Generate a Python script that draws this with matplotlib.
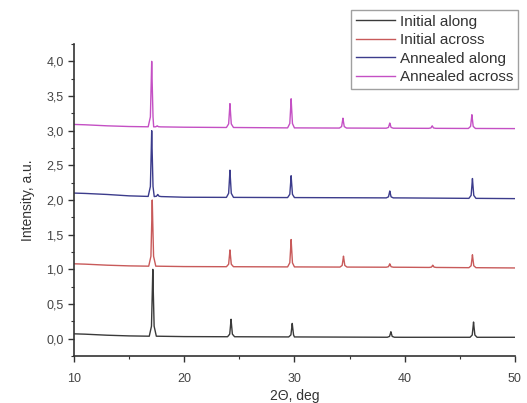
import numpy as np
import matplotlib
matplotlib.use("Agg")
import matplotlib.pyplot as plt
from matplotlib.ticker import MultipleLocator, FixedLocator, FixedFormatter

plt.rcParams["font.family"] = ["Liberation Sans", "DejaVu Sans"]

# ─── Data ────────────────────────────────────────────────────────────────────
labels = ["Initial along", "Initial across", "Annealed along", "Annealed across"]
colors = ["#3a3a3a", "#c85a5a", "#3c3c8c", "#c450c4"]

# baseline (2θ, intensity) per curve
base_x = [10, 11, 13, 15, 20, 30, 40, 50]
base_y = [
    [0.07, 0.065, 0.05, 0.04, 0.03, 0.025, 0.02, 0.02],
    [1.08, 1.075, 1.06, 1.05, 1.04, 1.035, 1.03, 1.02],
    [2.10, 2.095, 2.08, 2.06, 2.04, 2.035, 2.03, 2.02],
    [3.09, 3.085, 3.07, 3.06, 3.05, 3.04, 3.035, 3.03],
]

# peak positions (2θ) and peak-top intensities per curve
peak_pos = [
    [17.15, 24.25, 29.8, 38.75, 46.25],
    [17.1, 24.15, 29.7, 34.45, 38.65, 42.55, 46.15],
    [17.05, 17.6, 24.15, 29.7, 38.65, 46.15],
    [17.05, 17.55, 24.15, 29.7, 34.4, 38.65, 42.5, 46.1],
]
peak_top = [
    [1.00, 0.28, 0.22, 0.10, 0.24],
    [2.00, 1.28, 1.43, 1.19, 1.08, 1.06, 1.21],
    [3.00, 2.08, 2.43, 2.35, 2.13, 2.31],
    [4.00, 3.07, 3.39, 3.46, 3.18, 3.11, 3.07, 3.23],
]

y_ticks = [0.0, 0.5, 1.0, 1.5, 2.0, 2.5, 3.0, 3.5, 4.0]
y_ticklabels = ["0,0", "0,5", "1,0", "1,5", "2,0", "2,5", "3,0", "3,5", "4,0"]
x_ticks = [10, 20, 30, 40, 50]

# spike outline: (offset in 2θ, fraction of peak height)
SPIKE = [(-0.32, 0.0), (-0.12, 0.15), (-0.04, 0.7), (0.0, 1.0),
         (0.04, 0.7), (0.12, 0.15), (0.32, 0.0)]


def build_curve(bx, by, pos, top):
    """Baseline polyline with a narrow spike at every peak."""
    xs = list(bx)
    ys = list(by)
    for p, t in zip(pos, top):
        b = np.interp(p, bx, by)
        for dx, frac in SPIKE:
            xs.append(p + dx)
            ys.append(b + frac * (t - b))
    order = np.argsort(xs, kind="stable")
    return np.array(xs)[order], np.array(ys)[order]


fig = plt.figure(figsize=(5.27, 4.03), dpi=100, facecolor="white")
ax = fig.add_axes([0.1404, 0.1166, 0.8366, 0.7742])

lines = []
for i in range(4):
    xs, ys = build_curve(base_x, base_y[i], peak_pos[i], peak_top[i])
    ln, = ax.plot(xs, ys, color=colors[i], lw=1.0, label=labels[i])
    lines.append(ln)

ax.set_xlim(10, 50)
ax.set_ylim(-0.25, 4.25)

ax.xaxis.set_major_locator(FixedLocator(x_ticks))
ax.xaxis.set_minor_locator(MultipleLocator(5))
ax.yaxis.set_major_locator(FixedLocator(y_ticks))
ax.yaxis.set_major_formatter(FixedFormatter(y_ticklabels))
ax.yaxis.set_minor_locator(MultipleLocator(0.25))

for s in ("top", "right"):
    ax.spines[s].set_visible(False)
for s in ("left", "bottom"):
    ax.spines[s].set_color("#333333")
    ax.spines[s].set_linewidth(1.2)

ax.tick_params(which="major", direction="out", length=4, width=1.0,
               colors="#333333", labelsize=9, labelcolor="#444444")
ax.tick_params(axis="x", which="major", pad=8)
ax.tick_params(which="minor", direction="out", length=2.5, width=0.8,
               colors="#333333")

ax.set_xlabel("2Θ, deg", fontsize=10, color="#333333", labelpad=3)
ax.set_ylabel("Intensity, a.u.", fontsize=10, color="#333333", labelpad=8)

leg = fig.legend(handles=lines, loc="upper right",
                 bbox_to_anchor=(0.983, 0.975), fontsize=11,
                 frameon=True, fancybox=False, edgecolor="#888888",
                 labelspacing=0.3, handlelength=2.6, handletextpad=0.3,
                 borderpad=0.3, borderaxespad=0)
leg.get_frame().set_linewidth(1.0)
for t in leg.get_texts():
    t.set_color("#333333")

fig.savefig("out.png", dpi=100, facecolor="white")
